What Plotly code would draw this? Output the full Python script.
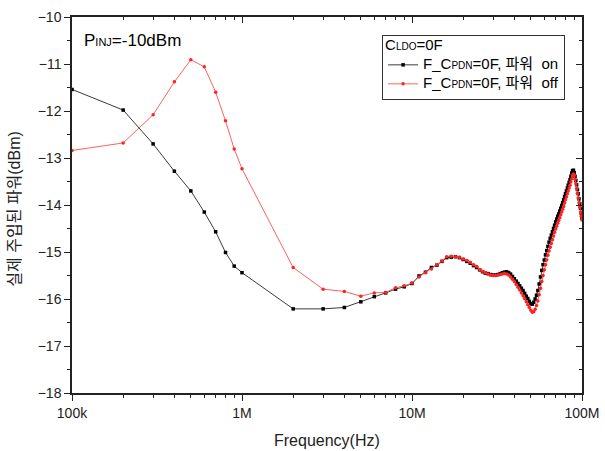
import plotly.graph_objects as go

# Frequency points (MHz)
freq_mhz = [0.1, 0.2, 0.3, 0.4, 0.5, 0.6, 0.7, 0.8, 0.9, 1,
            2, 3, 4, 5, 6, 7, 8, 9, 10,
            11, 12, 13, 14, 15, 16, 17, 18, 19, 20,
            21, 22, 23, 24, 25, 26, 27, 28, 29, 30,
            31, 32, 33, 34, 35, 36, 37, 38, 39, 40,
            41, 42, 43, 44, 45, 46, 47, 48, 49, 50,
            51, 52, 53, 54, 55, 56, 57, 58, 59, 60,
            61, 62, 63, 64, 65, 66, 67, 68, 69, 70,
            71, 72, 73, 74, 75, 76, 77, 78, 79, 80,
            81, 82, 83, 84, 85, 86, 87, 88, 89, 90,
            91, 92, 93, 94, 95, 96, 97, 98, 99, 100]

# Power ON (black)
power_on = [-11.54, -11.98, -12.70, -13.28, -13.70, -14.15, -14.57, -15.01, -15.30, -15.44,
            -16.21, -16.21, -16.18, -16.06, -15.95, -15.87, -15.79, -15.74, -15.67,
            -15.51, -15.43, -15.33, -15.28, -15.20, -15.12, -15.11, -15.10, -15.12, -15.16,
            -15.20, -15.24, -15.29, -15.33, -15.38, -15.42, -15.45, -15.46, -15.48, -15.49,
            -15.49, -15.48, -15.46, -15.44, -15.43, -15.42, -15.44, -15.47, -15.52, -15.57,
            -15.62, -15.67, -15.72, -15.77, -15.82, -15.88, -15.94, -15.99, -16.05, -16.10,
            -16.11, -16.07, -16.00, -15.92, -15.82, -15.68, -15.53, -15.39, -15.27, -15.17,
            -15.06, -14.97, -14.88, -14.79, -14.71, -14.64, -14.57, -14.50, -14.43, -14.36,
            -14.30, -14.24, -14.19, -14.13, -14.07, -14.01, -13.95, -13.89, -13.82, -13.76,
            -13.70, -13.64, -13.58, -13.52, -13.46, -13.39, -13.32, -13.27, -13.26, -13.31,
            -13.39, -13.48, -13.57, -13.67, -13.76, -13.87, -13.97, -14.07, -14.18, -14.28]

# Power OFF (red)
power_off = [-12.84, -12.68, -12.08, -11.38, -10.91, -11.06, -11.60, -12.21, -12.81, -13.23,
             -15.33, -15.79, -15.84, -15.94, -15.87, -15.86, -15.76, -15.72, -15.66,
             -15.53, -15.44, -15.36, -15.27, -15.19, -15.10, -15.09, -15.10, -15.11, -15.15,
             -15.18, -15.22, -15.27, -15.31, -15.37, -15.41, -15.44, -15.47, -15.49, -15.50,
             -15.50, -15.49, -15.48, -15.47, -15.46, -15.47, -15.49, -15.53, -15.58, -15.63,
             -15.69, -15.75, -15.81, -15.87, -15.93, -15.99, -16.06, -16.12, -16.18, -16.24,
             -16.28, -16.27, -16.22, -16.14, -16.04, -15.91, -15.77, -15.63, -15.50, -15.38,
             -15.27, -15.17, -15.07, -14.98, -14.90, -14.82, -14.74, -14.66, -14.58, -14.51,
             -14.45, -14.39, -14.33, -14.27, -14.21, -14.15, -14.09, -14.03, -13.96, -13.89,
             -13.83, -13.76, -13.70, -13.64, -13.58, -13.51, -13.44, -13.38, -13.34, -13.37,
             -13.45, -13.55, -13.65, -13.75, -13.85, -13.95, -14.05, -14.15, -14.24, -14.32]

x_tick_vals = [1e5, 1e6, 1e7, 1e8]
x_tick_text = ["100k", "1M", "10M", "100M"]
y_tick_vals = [-18, -17, -16, -15, -14, -13, -12, -11, -10]

freq_hz = [f * 1e6 for f in freq_mhz]

FONT = "Liberation Sans, Arial, Noto Sans CJK KR, sans-serif"
AX = "#222222"

def leg(txt):
    return "<span style='font-size:15px'>" + txt + "</span>"

fig = go.Figure()
fig.add_trace(go.Scatter(
    x=freq_hz, y=power_on, mode="lines+markers",
    name=leg("F_C<span style='font-size:10px'>PDN</span>=0F, 파워  on"),
    line=dict(color="#3a3a3a", width=1),
    marker=dict(color="black", size=3.5, symbol="square"),
))
fig.add_trace(go.Scatter(
    x=freq_hz, y=power_off, mode="lines+markers",
    name=leg("F_C<span style='font-size:10px'>PDN</span>=0F, 파워  off"),
    line=dict(color="#ff6060", width=1),
    marker=dict(color="#ff2222", size=3.5, symbol="circle"),
))
# invisible trace for mirrored axes
fig.add_trace(go.Scatter(x=[1e5], y=[-10], xaxis="x2", yaxis="y2",
                         mode="markers", marker=dict(opacity=0),
                         showlegend=False, hoverinfo="skip"))

fig.update_layout(
    width=605, height=451,
    margin=dict(l=72, r=23, t=17, b=58),
    paper_bgcolor="white", plot_bgcolor="white",
    font=dict(family=FONT, size=13, color=AX),
    showlegend=True,
    legend=dict(
        x=0.608, y=0.952, xanchor="left", yanchor="top",
        bgcolor="white", bordercolor="#333333", borderwidth=1,
        font=dict(family=FONT, size=11, color="black"),
        title=dict(text=leg("C<span style='font-size:10px'>LDO</span>=0F"),
                   font=dict(family=FONT, size=11, color="black")),
        tracegroupgap=0, itemwidth=30,
    ),
    xaxis=dict(
        type="log", range=[5, 8], automargin=False,
        tickvals=x_tick_vals, ticktext=x_tick_text,
        ticks="outside", ticklen=6, tickwidth=1, tickcolor=AX,
        minor=dict(ticks="outside", ticklen=3, tickcolor=AX, dtick="D1", showgrid=False),
        showline=True, linecolor=AX, linewidth=1.5,
        showgrid=False, zeroline=False,
        tickfont=dict(size=14),
    ),
    yaxis=dict(
        range=[-18, -10], automargin=False,
        tickvals=y_tick_vals,
        ticks="outside", ticklen=6, tickwidth=1, tickcolor=AX,
        minor=dict(ticks="outside", ticklen=3, tickcolor=AX, dtick=0.5, showgrid=False),
        showline=True, linecolor=AX, linewidth=1.5,
        showgrid=False, zeroline=False,
        tickfont=dict(size=14),
    ),
    xaxis2=dict(
        type="log", range=[5, 8], overlaying="x", side="top", automargin=False,
        tickvals=x_tick_vals, showticklabels=False,
        ticks="inside", ticklen=6, tickcolor=AX,
        minor=dict(ticks="inside", ticklen=3, tickcolor=AX, dtick="D1", showgrid=False),
        showline=True, linecolor=AX, linewidth=1.5,
        showgrid=False, zeroline=False,
    ),
    yaxis2=dict(
        range=[-18, -10], overlaying="y", side="right", automargin=False,
        tickvals=y_tick_vals, showticklabels=False,
        ticks="inside", ticklen=6, tickcolor=AX,
        minor=dict(ticks="inside", ticklen=3, tickcolor=AX, dtick=0.5, showgrid=False),
        showline=True, linecolor=AX, linewidth=1.5,
        showgrid=False, zeroline=False,
    ),
    annotations=[
        dict(x=0.02, y=0.968, xref="paper", yref="paper", xanchor="left", yanchor="top",
             text="P<span style='font-size:11px'>INJ</span>=-10dBm", showarrow=False,
             font=dict(family=FONT, size=17, color="black")),
        dict(x=0.5, y=-0.125, xref="paper", yref="paper", xanchor="center", yanchor="middle",
             text="Frequency(Hz)", showarrow=False,
             font=dict(family=FONT, size=16, color=AX)),
        dict(x=-0.112, y=0.49, xref="paper", yref="paper", xanchor="center", yanchor="middle",
             text="실제 주입된 파워(dBm)", showarrow=False, textangle=-90,
             font=dict(family=FONT, size=16, color=AX)),
    ],
)

fig.write_html("out.html")
